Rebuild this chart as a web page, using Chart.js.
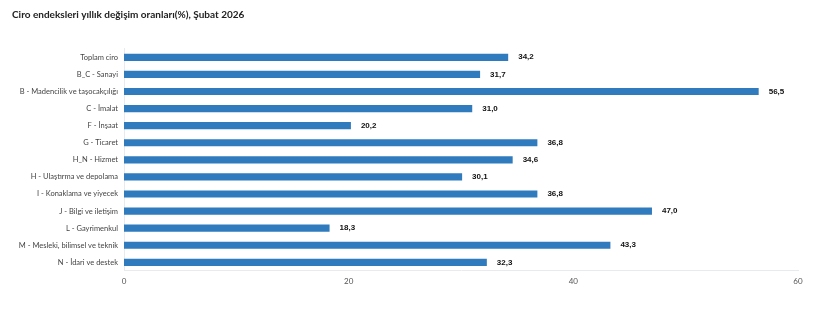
<!DOCTYPE html>
<html>
<head>
<meta charset="utf-8">
<script src="https://cdn.jsdelivr.net/npm/chart.js@4"></script>
<style>
  html, body { margin: 0; padding: 0; background: #fff; }
  #wrap { width: 820px; height: 323px; }
</style>
</head>
<body>
<div id="wrap"><canvas id="grafik"></canvas></div>
<script>
// Ciro endeksleri yıllık değişim oranları
const kategoriler = [
  "Toplam ciro",
  "B_C - Sanayi",
  "B - Madencilik ve taşocakçılığı",
  "C - İmalat",
  "F - İnşaat",
  "G - Ticaret",
  "H_N - Hizmet",
  "H - Ulaştırma ve depolama",
  "I - Konaklama ve yiyecek",
  "J - Bilgi ve iletişim",
  "L - Gayrimenkul",
  "M - Mesleki, bilimsel ve teknik",
  "N - İdari ve destek"
];
const degerler = [34.2, 31.7, 56.5, 31.0, 20.2, 36.8, 34.6, 30.1, 36.8, 47.0, 18.3, 43.3, 32.3];
const xTikleri = [0, 20, 40, 60];

const barRengi = "#2f7bbd";

// bar sonuna değer yaz
const degerEtiketi = {
  id: "degerEtiketi",
  afterDatasetsDraw(chart) {
    const ctx = chart.ctx;
    const meta = chart.getDatasetMeta(0);
    ctx.save();
    ctx.font = "bold 8px 'Liberation Sans', Arial, sans-serif";
    ctx.fillStyle = "#111";
    ctx.textBaseline = "middle";
    meta.data.forEach((bar, i) => {
      ctx.fillText(degerler[i].toFixed(1).replace(".", ","), bar.x + 10, bar.y);
    });
    ctx.restore();
  }
};

new Chart(document.getElementById("grafik"), {
  type: "bar",
  data: {
    labels: kategoriler,
    datasets: [{
      label: "",
      data: degerler,
      backgroundColor: barRengi,
      categoryPercentage: 0.42,
      barPercentage: 1
    }]
  },
  options: {
    indexAxis: "y",
    responsive: true,
    maintainAspectRatio: false,
    animation: false,
    layout: { padding: { top: 4, right: 22, bottom: 30.5, left: 12 } },
    plugins: {
      legend: { display: false },
      tooltip: { enabled: false },
      title: {
        display: true,
        text: "Ciro endeksleri yıllık değişim oranları(%), Şubat 2026",
        align: "start",
        color: "#222",
        font: { family: "Lato, sans-serif", size: 10, weight: "bold" },
        padding: { top: 5, bottom: 27.75 }
      }
    },
    scales: {
      x: {
        min: 0,
        max: 60,
        afterBuildTicks(scale) { scale.ticks = xTikleri.map(v => ({ value: v })); },
        grid: { display: false, drawTicks: false },
        border: { display: true, color: "#e8eaed" },
        ticks: {
          color: "#555",
          font: { family: "Lato, sans-serif", size: 8 },
          padding: 6
        }
      },
      y: {
        grid: { display: false, drawTicks: false },
        border: { display: true, color: "#e8eaed" },
        afterFit(scale) { scale.width = 112; },
        ticks: {
          color: "#444",
          font: { family: "Lato, sans-serif", size: 7.5 },
          padding: 6
        }
      }
    }
  },
  plugins: [degerEtiketi]
});
</script>
</body>
</html>
